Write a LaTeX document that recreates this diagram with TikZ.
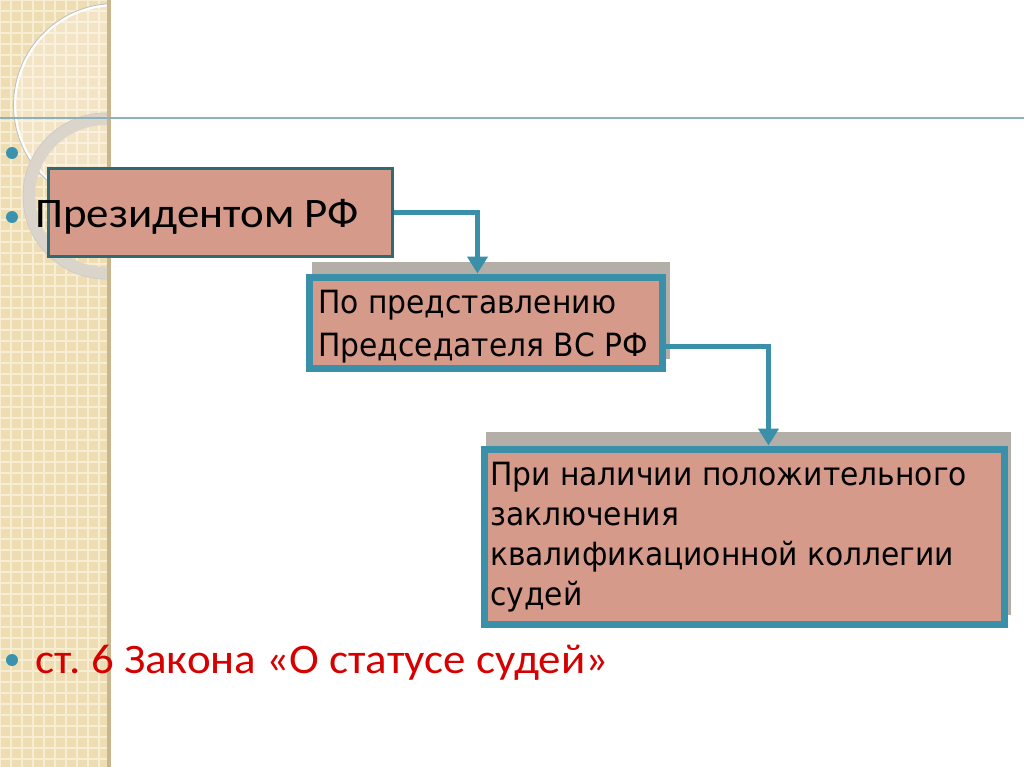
\documentclass[tikz,border=0pt]{standalone}
\usepackage{fontspec}
\setmainfont{Carlito}
\newfontfamily\bigfont[FakeStretch=1.07]{Carlito}
\newfontfamily\boxfont[FakeStretch=0.93]{DejaVu Sans}
\usetikzlibrary{arrows.meta}
\frenchspacing
\definecolor{stripbg}{HTML}{EEDCB2}
\definecolor{gridc}{HTML}{F7EDD2}
\definecolor{stripedge}{HTML}{C9B68E}
\definecolor{rulec}{HTML}{8DB1B9}
\definecolor{dotc}{HTML}{3A93AE}
\definecolor{boxfill}{HTML}{D59A89}
\definecolor{darkteal}{HTML}{2E6A73}
\definecolor{teal}{HTML}{3A90A9}
\definecolor{shadowc}{HTML}{B3AEA8}
\definecolor{redtxt}{HTML}{D60000}
\definecolor{ringc}{HTML}{DAD4CA}
\tikzset{
  bulletdot/.style={circle, fill=dotc, inner sep=0pt, minimum size=12pt},
  boxone/.style={draw=darkteal, line width=3pt, fill=boxfill, inner sep=0pt, anchor=north west},
  boxtwo/.style={draw=teal, line width=7pt, fill=boxfill, inner sep=0pt, anchor=north west},
  shadowbox/.style={fill=shadowc, inner sep=0pt, anchor=north west},
  conn/.style={draw=teal, line width=5pt, -{Triangle[width=20pt,length=17pt]}},
  bigtext/.style={font=\bigfont\fontsize{42}{50}\selectfont, anchor=base west, inner sep=0pt},
  boxtext/.style={font=\boxfont\fontsize{32}{43}\selectfont, anchor=base west, inner sep=0pt, align=left},
}
\begin{document}
\begin{tikzpicture}[x=1pt,y=-1pt]
\useasboundingbox (0,0) rectangle (1024,767);
\fill[white] (0,0) rectangle (1024,767);
% decorative strip
\fill[stripbg] (0,0) rectangle (110,767);
\begin{scope}
\clip (0,0) rectangle (110,767);
\foreach \i in {0,11,...,770} {
  \draw[gridc, line width=1.2pt] (\i,0) -- (\i,767);
  \draw[gridc, line width=1.2pt] (0,\i) -- (110,\i);
}
\fill[white, opacity=0.25] (115,105) circle (100);
\draw[white, line width=2.5pt] (115,105) circle (100);
\draw[black!25, line width=0.8pt] (115,105) circle (101.5);
\draw[ringc, line width=12pt] (106,196) circle (77);
\draw[black!20, line width=0.8pt] (106,196) circle (83);
\end{scope}
\fill[stripedge] (107,0) rectangle (111,767);
% rule
\draw[rulec, line width=1.2pt] (0,118) -- (1024,118);
% bullets
\node[bulletdot] (d1) at (12,153) {};
\node[bulletdot] (d2) at (12,217) {};
\node[bulletdot] (d3) at (12,660) {};
% box 1
\node[boxone, minimum width=344pt, minimum height=88pt] (b1) at (47,167) {};
\node[bigtext] (t1) at (35,228) {Президентом РФ};
% box 2
\node[shadowbox, minimum width=358pt, minimum height=97pt] (s2) at (312,262) {};
\node[boxtwo, minimum width=353pt, minimum height=91pt] (b2) at (305.5,273.5) {};
\node[boxtext] (t2) at (318,356) {По представлению\\Председателя ВС РФ};
% box 3
\node[shadowbox, minimum width=525pt, minimum height=183pt] (s3) at (486,432) {};
\node[boxtwo, minimum width=520pt, minimum height=175pt] (b3) at (480.5,445.5) {};
\node[boxtext, font=\boxfont\fontsize{32}{40}\selectfont] (t3) at (490,605) {При наличии положительного\\заключения\\квалификационной коллегии\\судей};
% connectors
\draw[conn] (b1.east) -| ([xshift=172pt]b2.north west);
\draw[conn] ([yshift=-24pt]b2.east) -| ([xshift=288pt]b3.north west);
% bottom text
\node[bigtext, text=redtxt] (t4) at (35,673) {ст. 6 Закона «О статусе судей»};
\end{tikzpicture}
\end{document}
